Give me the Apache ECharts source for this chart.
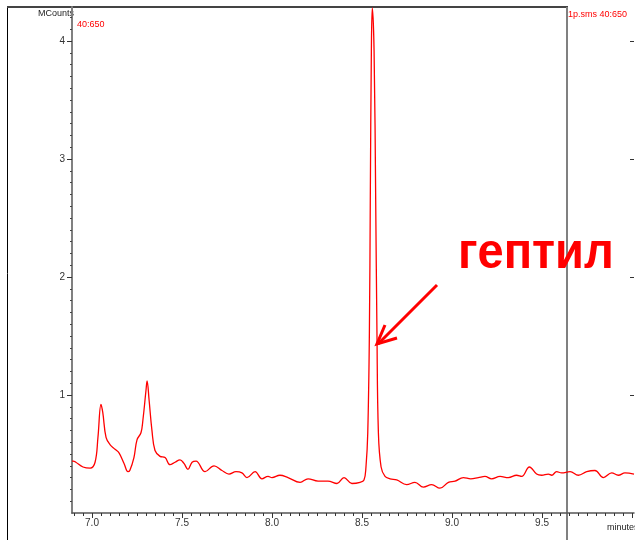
<!DOCTYPE html>
<html>
<head>
<meta charset="utf-8">
<script src="https://cdn.jsdelivr.net/npm/echarts@6/dist/echarts.min.js"></script>
<style>
html,body{margin:0;padding:0;background:#fff;}
#chrom{width:635px;height:540px;}
</style>
</head>
<body>
<div id="chrom"></div>
<script>
// retention time, minutes
var times=[6.889,6.896,6.91,6.95,6.99,7.017,7.033,7.05,7.06,7.078,7.1,7.128,7.15,7.178,7.2,7.21,7.233,7.25,7.272,7.283,7.3,7.306,7.317,7.333,7.35,7.378,7.406,7.433,7.461,7.489,7.511,7.533,7.556,7.578,7.628,7.678,7.722,7.761,7.8,7.833,7.861,7.906,7.944,7.978,8.0,8.044,8.089,8.156,8.2,8.256,8.311,8.361,8.4,8.444,8.489,8.511,8.522,8.532,8.541,8.546,8.552,8.557,8.567,8.576,8.583,8.591,8.606,8.628,8.656,8.693,8.748,8.794,8.841,8.887,8.933,8.98,9.017,9.063,9.104,9.146,9.183,9.22,9.267,9.313,9.359,9.387,9.43,9.47,9.498,9.535,9.554,9.581,9.609,9.656,9.702,9.748,9.794,9.841,9.887,9.924,9.961,10.011];
// intensity, MCounts
var counts=[0.44,0.44,0.43,0.39,0.38,0.43,0.64,0.92,0.85,0.64,0.58,0.54,0.51,0.42,0.35,0.36,0.47,0.62,0.68,0.79,1.04,1.12,0.96,0.70,0.53,0.48,0.47,0.41,0.43,0.45,0.42,0.37,0.43,0.44,0.35,0.40,0.36,0.33,0.35,0.34,0.30,0.35,0.29,0.31,0.30,0.32,0.30,0.26,0.29,0.27,0.27,0.25,0.30,0.25,0.26,0.28,0.39,0.68,1.53,2.65,3.92,4.28,3.92,2.65,1.53,0.68,0.39,0.31,0.29,0.28,0.24,0.26,0.22,0.24,0.21,0.26,0.27,0.30,0.29,0.30,0.31,0.29,0.31,0.30,0.32,0.31,0.39,0.33,0.32,0.33,0.32,0.35,0.34,0.35,0.32,0.35,0.36,0.30,0.34,0.32,0.34,0.33];

var xLabels=[7.0,7.5,8.0,8.5,9.0,9.5];
var xMajor=[7.0,7.5,8.0,8.5,9.0,9.5,10.0];
var yLabels=[1,2,3,4];

var xMinor=[];
for(var i=0;i<=62;i++){xMinor.push(Math.round((6.9+i*0.05)*100)/100);}
var yMinor=[];
for(var j=1;j<=42;j++){yMinor.push(Math.round(j*10)/100);}

var seriesData=[];
for(var k=0;k<times.length;k++){seriesData.push([times[k],counts[k]]);}

var chrom=echarts.init(document.getElementById('chrom'));
var chrom_option={
    animation:false,
    grid:{left:72,right:1,top:7,bottom:27},
    xAxis:[
        {
            type:'value',
            min:6.8889,
            max:10.011,
            splitLine:{show:false},
            axisLine:{lineStyle:{color:'#555',width:1.5}},
            axisTick:{customValues:xMinor,length:3,lineStyle:{color:'#333'}},
            axisLabel:{
                customValues:xLabels,
                margin:5,
                fontSize:10,
                fontFamily:'Liberation Sans',
                color:'#333',
                formatter:function(v){return v.toFixed(1);}
            }
        },
        {
            type:'value',
            position:'bottom',
            min:6.8889,
            max:10.011,
            splitLine:{show:false},
            axisLine:{show:false},
            axisTick:{customValues:xMajor,length:5,lineStyle:{color:'#333'}},
            axisLabel:{show:false}
        }
    ],
    yAxis:[
        {
            type:'value',
            min:0,
            max:4.288,
            splitLine:{show:false},
            axisLine:{show:true,lineStyle:{color:'#808080',width:2}},
            axisTick:{customValues:yMinor,length:2,lineStyle:{color:'#444'}},
            axisLabel:{
                customValues:yLabels,
                margin:7,
                fontSize:10,
                fontFamily:'Liberation Sans',
                color:'#333'
            }
        },
        {
            type:'value',
            position:'left',
            min:0,
            max:4.288,
            splitLine:{show:false},
            axisLine:{show:false},
            axisTick:{customValues:yLabels,length:5,lineStyle:{color:'#333'}},
            axisLabel:{show:false}
        },
        {
            type:'value',
            position:'right',
            min:0,
            max:4.288,
            splitLine:{show:false},
            axisLine:{show:false},
            axisTick:{customValues:yLabels,length:4,inside:true,lineStyle:{color:'#333'}},
            axisLabel:{show:false}
        }
    ],
    series:[
        {
            name:'40:650',
            type:'line',
            data:seriesData,
            smooth:0.4,
            symbol:'none',
            lineStyle:{color:'#ff0000',width:1.3}
        }
    ],
    graphic:[
        {type:'line',shape:{x1:7.5,y1:7,x2:7.5,y2:540},style:{stroke:'#000',lineWidth:1}},
        {type:'line',shape:{x1:7,y1:7,x2:568,y2:7},style:{stroke:'#444',lineWidth:2}},
        {type:'line',shape:{x1:567,y1:7,x2:567,y2:540},style:{stroke:'#808080',lineWidth:2}},
        {type:'text',left:38,top:9,style:{text:'MCounts',fontSize:9,fontFamily:'Liberation Sans',fill:'#222'}},
        {type:'text',left:77,top:20,style:{text:'40:650',fontSize:9,fontFamily:'Liberation Sans',fill:'#ff0000'}},
        {type:'text',left:568,top:10,style:{text:'1p.sms 40:650',fontSize:9,fontFamily:'Liberation Sans',fill:'#ff0000'}},
        {type:'text',left:607,top:523,style:{text:'minutes',fontSize:9,fontFamily:'Liberation Sans',fill:'#222'}},
        {type:'text',x:458,y:229,scaleX:0.94,style:{text:'гептил',fontSize:50,fontWeight:'bold',fontFamily:'Liberation Sans',fill:'#ff0000'}},
        {type:'polyline',shape:{points:[[437,285],[378,344]]},style:{stroke:'#ff0000',lineWidth:3}},
        {type:'polyline',shape:{points:[[385,325],[377,344],[397,338]]},style:{stroke:'#ff0000',lineWidth:3,fill:null}}
    ]
};
chrom.setOption(chrom_option);
</script>
</body>
</html>
